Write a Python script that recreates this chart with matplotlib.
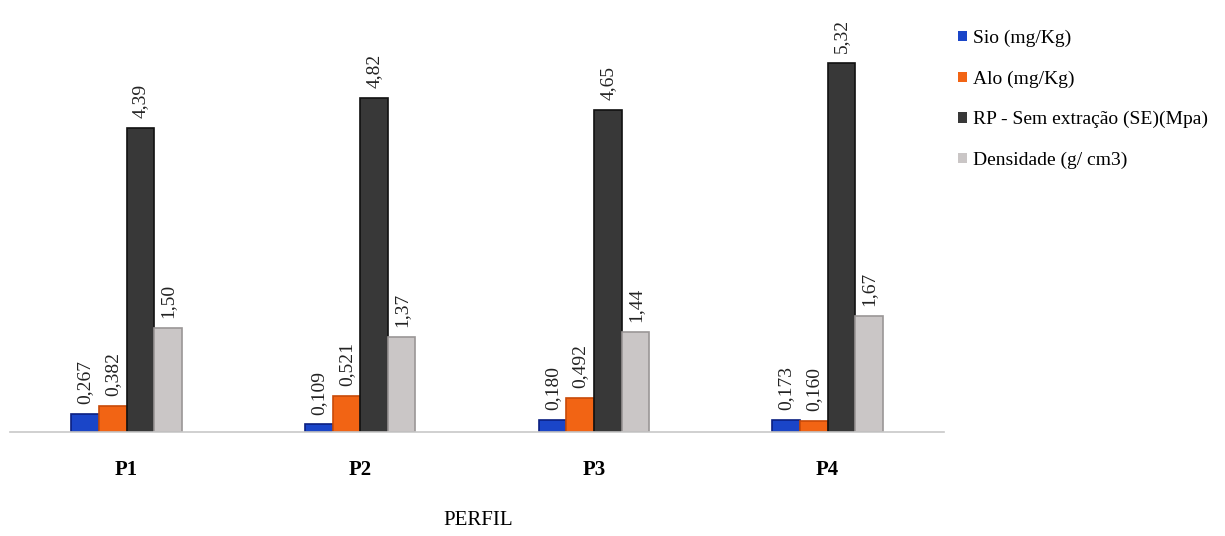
import matplotlib.pyplot as plt
import numpy as np

plt.rcParams['font.family'] = ['Liberation Serif', 'DejaVu Serif']

perfis = ['P1', 'P2', 'P3', 'P4']
sio = [0.267, 0.109, 0.180, 0.173]
alo = [0.382, 0.521, 0.492, 0.160]
rp_se = [4.39, 4.82, 4.65, 5.32]
densidade = [1.50, 1.37, 1.44, 1.67]

series = [
    ('Sio (mg/Kg)', sio, '#1a45c8', '#0b1f80', 3),
    ('Alo (mg/Kg)', alo, '#f26414', '#c84a08', 3),
    ('RP - Sem extração (SE)(Mpa)', rp_se, '#383838', '#111111', 2),
    ('Densidade (g/ cm3)', densidade, '#cac6c6', '#9a9696', 2),
]

fig = plt.figure(figsize=(12.25, 5.36), dpi=100)
ax = fig.add_axes([0.008, 0.194, 0.763, 0.806])

x = np.arange(len(perfis))
w = 0.118
for i, (nome, vals, cor, borda, casas) in enumerate(series):
    pos = x + (i - 1.5) * w
    bars = ax.bar(pos, vals, w, color=cor, edgecolor=borda, linewidth=1.2, label=nome)
    for b, v in zip(bars, vals):
        txt = f'{v:.{casas}f}'.replace('.', ',')
        ax.annotate(txt, (b.get_x() + b.get_width() / 2, v), xytext=(0, 7),
                    textcoords='offset points', rotation=90, ha='center', va='bottom',
                    fontsize=14, color='#222222')

ax.set_xlim(-0.5, 3.5)
ax.set_ylim(0, 6.23)
ax.set_xticks(x)
ax.set_xticklabels(perfis, fontsize=15, fontweight='bold')
ax.tick_params(axis='x', length=0, pad=20)
ax.set_yticks([])
for s in ['top', 'right', 'left']:
    ax.spines[s].set_visible(False)
ax.spines['bottom'].set_color('#c8c8c8')
ax.spines['bottom'].set_linewidth(1.2)

fig.text(0.39, 0.012, 'PERFIL', fontsize=15, ha='center', va='bottom')

leg = fig.legend(loc='upper left', bbox_to_anchor=(0.768, 0.977), frameon=False,
                 fontsize=14, handlelength=0.45, handleheight=0.45, handletextpad=0.3,
                 labelspacing=1.2)
for h in leg.legend_handles:
    h.set_linewidth(0)

plt.savefig('out.png')
